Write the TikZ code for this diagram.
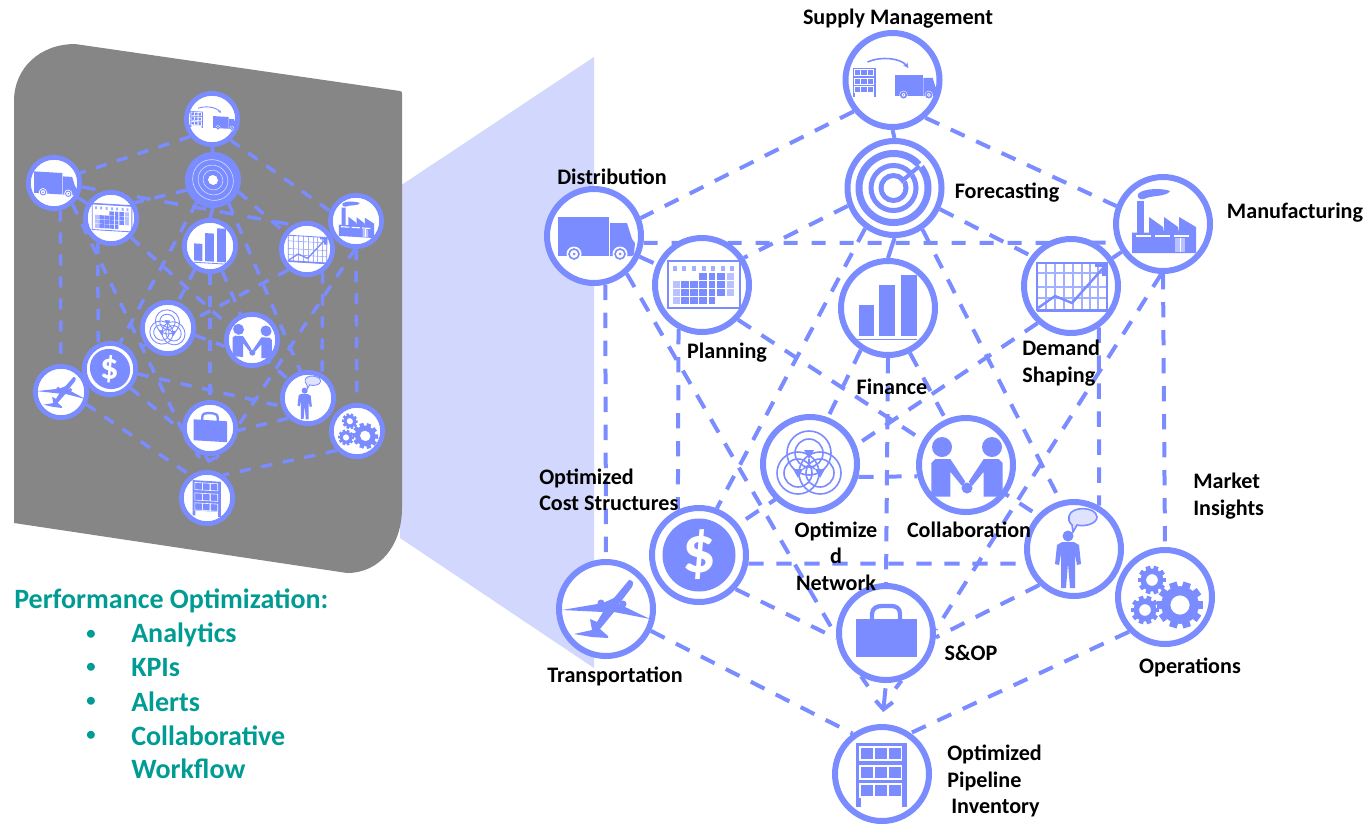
\documentclass[tikz,border=0pt]{standalone}
\usepackage{fontspec}
\setmainfont{Carlito}
\usetikzlibrary{arrows.meta}
\definecolor{ico}{HTML}{7A8CFF}
\definecolor{paleico}{HTML}{B9C2FF}
\definecolor{gridico}{HTML}{A3B0FF}
\definecolor{bubble}{HTML}{DFE3FF}
\definecolor{fan}{HTML}{D2D8FD}
\definecolor{panelgray}{HTML}{868686}
\definecolor{teal}{HTML}{009C94}
\pgfdeclarelayer{back}\pgfdeclarelayer{links}
\pgfsetlayers{back,links,main}
\def\hubs{1}\def\hubsize{70.5pt}\def\ringw{4.5pt}\def\hubslant{0}
\def\linkw{3pt}\def\dashon{11.5pt}\def\dashoff{9.5pt}\def\pfx{b}
\tikzset{
  hubnode/.style={circle,draw=ico,fill=white,line width=\ringw,minimum size=\hubsize,inner sep=0pt},
  link/.style={draw=ico,line width=\linkw,dash pattern=on \dashon off \dashoff},
  lab/.style={font=\fontsize{16.6}{19.8}\selectfont\bfseries,text=black,inner sep=0pt,align=left},
  labc/.style={lab,align=center},
  tealtxt/.style={font=\fontsize{21}{25}\selectfont\bfseries,text=teal,inner sep=0pt,anchor=west},
  icon/.style={fill=ico,draw=none}
}
% ---------- icons (pixels relative to the hub centre, y down)
\newcommand{\icTruck}{%
  \fill[icon] (-36,-19) rectangle (15,20);
  \fill[icon] (16,-13) -- (33,-13) -- (38,3) -- (41,7) -- (40,18) -- (38,20) -- (16,20) -- cycle;
  \foreach \wx in {-20,26}{
    \fill[white] (\wx,18) circle (7.5);
    \draw[ico,line width=\hubs*1.2pt] (\wx,18) circle (5);
    \fill[ico] (\wx,18) circle (1.5);}
}
\newcommand{\icRack}{%
  \fill[icon] (-26,-31) rectangle (25,24);
  \fill[icon] (-26,24) rectangle (-21,33);
  \fill[icon] (20,24) rectangle (25,33);
  \foreach \ry/\rh in {-27/13,-8/13,10/13}{
    \foreach \rx in {-22,-8,6}{
      \draw[white,line width=\hubs*.8pt] (\rx,\ry) rectangle (\rx+13.5,\ry+\rh);}}
}
\newcommand{\icSupply}{%
  \begin{scope}[shift={(-28,2)},scale=.46]\icRack\end{scope}
  \begin{scope}[shift={(22,5)},scale=.55]\icTruck\end{scope}
  \draw[ico,line width=\hubs*1.2pt,-{Stealth[length=\hubs*4pt,width=\hubs*4pt]}] (-25,-18) .. controls (-12,-24) and (8,-22) .. (16,-12);
}
\newcommand{\icTarget}{%
  \draw[ico,line width=\hubs*5.25pt] (-1,0) circle (34.5);
  \draw[ico,line width=\hubs*3.75pt] (-1,0) circle (22.5);
  \draw[ico,line width=\hubs*3.75pt] (-1,0) circle (12.5);
  \draw[white,line width=\hubs*2.4pt] (6,-5) -- (31,-27);
  \draw[ico,line width=\hubs*3pt] (4,-4) -- (25,-22);
  \fill[white] (-1,0) circle (9.5);
}
\newcommand{\icTargetMini}{%
  \fill[icon] (0,0) circle (46);
  \draw[white!70!ico,line width=\hubs*.8pt] (0,0) circle (37);
  \draw[white!70!ico,line width=\hubs*.8pt] (0,0) circle (27);
  \draw[white!70!ico,line width=\hubs*.8pt] (0,0) circle (18);
  \fill[white] (0,0) circle (9);
}
\newcommand{\icCalendar}{%
  \draw[ico,line width=\hubs*1.2pt] (-34,-24) rectangle (38,23);
  \fill[icon] (-34,-25.5) rectangle (38,-23);
  \foreach \cx in {-27,-18,-8,2,11,21,30}{\fill[gridico] (\cx-1.8,-19.5) rectangle (\cx+1.8,-14.5);}
  \foreach \cx/\cw/\cy/\cc in {
    -3/9/-12/ico,7/7/-12/ico,15/9/-12/ico,25/8/-12/paleico,
    -29/8/-4/paleico,-21/9/-4/ico,-12/9/-4/ico,-3/9/-4/ico,7/7/-4/ico,15/9/-4/ico,25/8/-4/paleico,
    -29/8/4/paleico,-21/9/4/ico,-12/9/4/ico,-3/9/4/ico,7/7/4/ico,15/9/4/ico,25/8/4/paleico,
    -29/8/12/paleico,-21/9/12/ico,-12/9/12/ico,-3/9/12/ico,7/7/12/ico}{
    \fill[\cc] (\cx,\cy) rectangle (\cx+\cw-.6,\cy+7.4);}
}
\newcommand{\icBars}{%
  \fill[icon] (-29,-3) rectangle (-14,28);
  \fill[icon] (-9,-23) rectangle (7,28);
  \fill[icon] (13,-33) rectangle (29,28);
  \fill[icon] (-32,30.5) rectangle (29,32);
}
\newcommand{\icChart}{%
  \foreach \gx in {-25,-16,-7,2,11,19,27}{\draw[gridico,line width=\hubs*.9pt] (\gx,-23) -- (\gx,24);}
  \foreach \gy in {-13,1,12}{\draw[gridico,line width=\hubs*.9pt] (-34,\gy) -- (36,\gy);}
  \draw[ico,line width=\hubs*1.2pt] (-34,-23) rectangle (36,24);
  \fill[icon] (-34,22.5) rectangle (36,25.5);
  \fill[icon] (31,-23) rectangle (37,-10);
  \fill[icon] (24,-23) rectangle (37,-19);
  \draw[ico,line width=\hubs*1.8pt] (-33,22) -- (-16,10) -- (1,17) -- (33,-19);
}
\newcommand{\icFactory}{%
  \fill[icon] (-31,8.5) -- (-31,29) -- (33,29) -- (33,3) -- (16,-7) -- (16,8.5) -- (15,3) -- (1,-7) -- (1,8.5) -- (0,3) -- (-14,-7) -- (-14,8.5) -- cycle;
  \fill[icon] (-26,-23) rectangle (-19,9);
  \fill[icon] (-25,-30) .. controls (-20,-36) and (0,-36) .. (7,-33) .. controls (4,-27) and (-12,-29) .. (-19,-25) .. controls (-23,-24) and (-26,-26) .. (-25,-30) -- cycle;
  \foreach \sx in {-27,-8,11}{\fill[white] (\sx,11) rectangle (\sx+15,13);}
  \fill[paleico] (12,14) rectangle (22,28);
  \draw[white,line width=\hubs*.6pt] (17,14) -- (17,28);
}
\newcommand{\icNetworkB}{%
  \draw[ico,line width=\hubs*1.2pt] (-1,-11) circle (22) circle (14);
  \draw[ico,line width=\hubs*1.2pt] (-12,9) circle (21) circle (14);
  \draw[ico,line width=\hubs*1.2pt] (10,9) circle (21) circle (14);
  \fill[icon] (-6,-14) -- (4,-14) -- (-1,-5) -- cycle;
  \fill[icon] (-17,5) -- (-7,5) -- (-12,14) -- cycle;
  \fill[icon] (5,5) -- (15,5) -- (10,14) -- cycle;
  \draw[ico,line width=\hubs*1.2pt] (-1,-5) -- (-1,1) -- (-7,5) (-1,1) -- (5,5);
}
\newcommand{\icHalfPerson}{%
  \fill[icon] (25,-18) circle (10);
  \fill[icon] (35.7,-2) -- (31.7,-6) -- (16.7,-6) -- (1.7,16.7) -- (5,21) -- (16.7,6.7) -- (16.7,31.7) -- (35.7,31.7) -- cycle;
}
\newcommand{\icShake}{%
  \begin{scope}[xshift=.75pt*\hubs]
  \icHalfPerson
  \begin{scope}[xscale=-1]\icHalfPerson\end{scope}
  \fill[icon] (0,23) circle (5.5);
  \end{scope}
}
\newcommand{\icDollar}{%
  \fill[icon] (0,0) circle (36.5);
  \node[transform shape,text=white,inner sep=0pt,font=\fontsize{50}{50}\selectfont\bfseries] at (0,0) {\$};
}
\newcommand{\icPerson}{%
  \fill[icon] (-6,-13) circle (5.5);
  \fill[icon] (-12,-7) -- (0,-7) -- (5,-4) -- (7,15) -- (3,16) -- (1,5) -- (1,39) -- (-4,39) -- (-6,14) -- (-8,39) -- (-13,39) -- (-13,5) -- (-15,16) -- (-19,15) -- (-17,-4) -- cycle;
  \filldraw[draw=ico,fill=bubble,line width=\hubs*1.2pt] (-2,-24) .. controls (-5,-27) and (-6,-30) .. (-5,-33) .. controls (-3,-43) and (22,-43) .. (23,-32) .. controls (23,-25) and (10,-22) .. (3,-24) -- (-1,-17) -- cycle;
}
\newcommand{\gearic}[3]{%
  \begin{scope}[shift={(#1,#2)}]
    \foreach \ga in {0,36,...,324}{
      \fill[icon,rotate=\ga] (#3*.72,-#3*.17) rectangle (#3*1.02,#3*.17);}
    \fill[icon,even odd rule] (0,0) circle (#3*.82) circle (#3*.42);
  \end{scope}
}
\newcommand{\icGears}{\gearic{-13}{-17}{14}\gearic{-20}{13}{14}\gearic{15}{8}{23}}
\newcommand{\icPlane}{%
  \fill[icon] (23,-29) .. controls (27,-29) and (28,-26) .. (26,-22) -- (13,-5) -- (44,10) -- (8,3) -- (-6,20) -- (2,27) -- (2,29) -- (-14,28) -- (-32,25) -- (-14,21) -- (-16,10) -- (-9,13) -- (-3,3) -- (-44,1) -- (-3,-6) -- (8,-11) -- cycle;
  \fill[icon] (-5,-6) circle (3.5);
  \fill[icon] (17,-5) circle (3.5);
}
\newcommand{\icCase}{%
  \fill[icon] (-30,-14) rectangle (31,24);
  \draw[ico,line width=\hubs*3.2pt] (-14,-14) -- (-14,-19) .. controls (-14,-25) and (-9,-27) .. (-4,-27) -- (5,-27) .. controls (10,-27) and (14,-25) .. (14,-19) -- (14,-14);
}
% ---------- a hub: name, x, y, icon
\newcommand{\hub}[4]{%
  \node[hubnode] (\pfx#1) at (#2,#3) {};
  \begin{scope}[shift={(#2,#3)},scale=\hubs,yslant=\hubslant]#4\end{scope}
}
% ---------- the connectors of one network
\newcommand{\links}{%
  \begin{pgfonlayer}{links}
  \draw[link] (\pfx sup.219) -- (\pfx dis.21);
  \draw[link] (\pfx sup.311) -- (\pfx man.159);
  \draw[ico,line width=\linkw] (\pfx sup.south) -- (\pfx for.north);
  \draw[link] (\pfx man.south) -- (\pfx ope.north);
  \draw[link] (\pfx ope.224) -- (\pfx inv.55);
  \draw[link] (\pfx tra.334) -- (\pfx inv.126);
  \draw[link] (\pfx dis.283) -- (\pfx tra.north);
  \draw[link,dash pattern=on 10.5pt off 10.5pt] (\pfx dis.352) -- (\pfx man.202);
  \draw[link] (\pfx for.201) -- (\pfx pla.33);
  \draw[link] (\pfx for.335) -- (\pfx dem.143);
  \draw[ico,line width=\linkw] (\pfx for.south) -- (\pfx fin.north);
  \draw[link] (\pfx dis) -- (\pfx pla);
  \draw[link] (\pfx pla.242) -- (\pfx dol.115);
  \draw[link] (\pfx dem.304) -- (\pfx mar.60);
  \draw[link] (\pfx dol.350) -- (\pfx mar.197);
  \draw[link] (\pfx fin.south) -- (\pfx sop.north);
  \draw[link] (\pfx net.345) -- (\pfx col.193);
  \draw[link] (\pfx dis.311) -- (\pfx sop.183);
  \draw[link] (\pfx for.304) -- (\pfx mar.106);
  \draw[link] (\pfx for.234) -- (\pfx dol.69);
  \draw[link] (\pfx man.268) -- (\pfx sop.4);
  \draw[link] (\pfx pla.316) -- (\pfx mar.137);
  \draw[link] (\pfx dem.228) -- (\pfx dol.38);
  \draw[link] (\pfx dol.317) -- (\pfx sop.186);
  \draw[link] (\pfx mar.226) -- (\pfx sop.355);
  \draw[link] (\pfx fin.237) -- (\pfx net.69);
  \draw[link] (\pfx fin.296) -- (\pfx col.114);
  \draw[link] (\pfx dem) -- (\pfx man);
  \draw[ico,line width=\linkw,shorten <=\hubs*4pt,shorten >=\hubs*9pt,-{Straight Barb[length=\hubs*6pt,width=\hubs*13pt]}] (\pfx sop.south) -- (\pfx inv.north);
  \coordinate (\pfx tka) at ([shift={(7*\hubs,10*\hubs)}]\pfx sop.240);
  \coordinate (\pfx tkb) at ([shift={(-6*\hubs,8*\hubs)}]\pfx sop.288);
  \draw[ico,line width=\linkw] (\pfx sop.240) -- (\pfx tka);
  \draw[ico,line width=\linkw] (\pfx sop.288) -- (\pfx tkb);
  \end{pgfonlayer}
}
\begin{document}
\begin{tikzpicture}[x=.75pt,y=-.75pt]
\useasboundingbox (0,0) rectangle (1369,825);
\begin{pgfonlayer}{back}
  \fill[fan] (400,186) -- (594,57) -- (594,668) -- (400,538) -- cycle;
  \fill[panelgray] (14,101) .. controls (14,68) and (40,44) .. (75,44) -- (400,91) .. controls (402,91.5) and (402,92) .. (402,94) -- (402,508) .. controls (402,545) and (380,573) .. (347,573) -- (14,523) -- cycle;
\end{pgfonlayer}

% ---------- mini network on the panel
\begingroup
\def\hubs{.55}\def\hubsize{38.5pt}\def\ringw{3.6pt}\def\hubslant{-.06}
\def\linkw{2.6pt}\def\dashon{8.5pt}\def\dashoff{8pt}\def\pfx{m}
\hub{sup}{212}{119}{\icSupply}
\hub{for}{213}{180}{\icTargetMini}
\hub{dis}{54}{183}{\icTruck}
\hub{pla}{111}{218}{\icCalendar}
\hub{fin}{210}{246}{\icBars}
\hub{dem}{307}{249}{\icChart}
\hub{man}{356}{221}{\icFactory}
\hub{net}{168}{328}{\icNetworkB}
\hub{col}{252}{340}{\icShake}
\hub{dol}{110}{369}{\icDollar}
\hub{tra}{61}{392}{\icPlane}
\hub{mar}{308}{398}{\icPerson}
\hub{ope}{357}{431}{\icGears}
\hub{sop}{210}{428}{\icCase}
\hub{inv}{207}{498}{\icRack}
\links
\endgroup

% ---------- main network
\hub{sup}{892.5}{80}{\icSupply}
\hub{for}{894.5}{188}{\icTarget}
\hub{dis}{594}{236}{\icTruck}
\hub{pla}{702}{285}{\icCalendar}
\hub{fin}{888}{308}{\icBars}
\hub{dem}{1071}{286}{\icChart}
\hub{man}{1163}{224}{\icFactory}
\hub{net}{810}{464}{\icNetworkB}
\hub{col}{966}{465}{\icShake}
\hub{dol}{699}{555}{\icDollar}
\hub{tra}{606}{609}{\icPlane}
\hub{mar}{1074}{549}{\icPerson}
\hub{ope}{1165}{597}{\icGears}
\hub{sop}{886}{633}{\icCase}
\hub{inv}{882}{774}{\icRack}
\links

% ---------- labels
\node[labc] (l1) at (898,19) {Supply Management};
\node[labc] (l2) at (1007,193) {Forecasting};
\node[labc] (l3) at (612,177) {Distribution};
\node[labc] (l4) at (1295,213) {Manufacturing};
\node[labc] (l5) at (727,353) {Planning};
\node[labc] (l6) at (892,387) {Finance};
\node[lab,anchor=west] (l7) at (1022,363) {Demand\\Shaping};
\node[lab,anchor=west] (l8) at (539,490) {Optimized\\Cost Structures};
\node[labc] (l9) at (836,556) {Optimize\\d\\Network};
\node[labc] (l10) at (969,530) {Collaboration};
\node[lab,anchor=west] (l11) at (1193,496) {Market\\Insights};
\node[labc] (l12) at (615,676) {Transportation};
\node[labc] (l13) at (971,653) {S\&OP};
\node[labc] (l14) at (1190,667) {Operations};
\node[lab,anchor=west] (l15) at (947,781) {Optimized\\Pipeline\\\hspace*{3pt}Inventory};

% ---------- teal list
\node[tealtxt] (t0) at (14,601) {Performance Optimization:};
\foreach \tn/\ty/\tt in {a/635/Analytics,b/668/KPIs,c/702/Alerts,d/736/Collaborative,e/769/Workflow}{
  \node[tealtxt] (t\tn) at (131,\ty) {\tt};}
\foreach \tn/\ty in {a/635,b/668,c/702,d/736}{
  \node[tealtxt,anchor=center,font=\fontsize{14}{14}\selectfont\bfseries] (u\tn) at (91,\ty) {•};}
\end{tikzpicture}
\end{document}
